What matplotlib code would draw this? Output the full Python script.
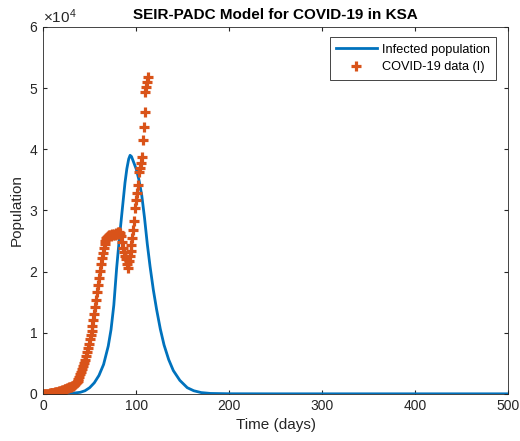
import matplotlib
matplotlib.use('Agg')
import matplotlib.pyplot as plt
import numpy as np
from matplotlib.ticker import ScalarFormatter

plt.rcParams['font.family'] = ['Liberation Sans', 'DejaVu Sans']
plt.rcParams['mathtext.fontset'] = 'custom'
plt.rcParams['mathtext.rm'] = 'Liberation Sans'

# model curve (infected population)
model_days = [0, 20, 30, 40, 45, 50, 55, 60, 65, 70, 73, 76, 79, 82, 85, 88, 90,
              92, 93.5, 95, 97, 100, 103, 106, 109, 112, 115, 118.5, 122, 126,
              130, 135, 140, 147, 155, 162, 170, 180, 200, 250, 300, 400, 500]
model_infected = [0, 10, 60, 250, 500, 1000, 1800, 3000, 4800, 7800, 10500,
                  14500, 20500, 25500, 30000, 34500, 36800, 38400, 39000, 38800,
                  38000, 36800, 35000, 32500, 28800, 24500, 20800, 17000, 13800,
                  10600, 8000, 5600, 3800, 2200, 1000, 500, 200, 60, 10, 0, 0,
                  0, 0]

# COVID-19 data (I), one point per day from day 0
data_infected = [0, 1, 1, 5, 10, 20, 40, 60, 90, 120, 150, 180, 200, 240, 280,
                 320, 360, 400, 450, 500, 560, 620, 680, 740, 800, 860, 920, 980,
                 1040, 1100, 1160, 1220, 1300, 1400, 1550, 1700, 1900, 2100, 2400,
                 2800, 3200, 3600, 4100, 4600, 5100, 5600, 6200, 6800, 7500, 8200,
                 8900, 9600, 10300, 11100, 12000, 13000, 14200, 15400, 16600,
                 17800, 19000, 20100, 21200, 22200, 23100, 23900, 24500, 25000,
                 25400, 25600, 25800, 25900, 26000, 25800, 26100, 25900, 26200,
                 26000, 26300, 26100, 26400, 26200, 26500, 26300, 25800, 24800,
                 23800, 23200, 22500, 22000, 21200, 20500, 21800, 22600, 23400,
                 24300, 25500, 26800, 28200, 30400, 31700, 32800, 34100, 36300,
                 36900, 37700, 38800, 41500, 43700, 46100, 49300, 50200, 51000,
                 51800]
data_days = np.arange(len(data_infected))

fig = plt.figure(figsize=(5.2, 4.41), dpi=100)
ax = fig.add_axes([0.083, 0.107, 0.894, 0.832])

ax.plot(model_days, model_infected, color='#0072BD', lw=2, label='Infected population')
ax.plot(data_days, data_infected, '+', color='#D95319', ms=7, mew=2.3,
        label='COVID-19 data (I)')

ax.set_xlim(0, 500)
ax.set_ylim(0, 60000)
ax.set_xticks(np.arange(0, 501, 100))
ax.set_yticks(np.arange(0, 60001, 10000))
fmt = ScalarFormatter(useMathText=True)
fmt.set_powerlimits((0, 0))
ax.yaxis.set_major_formatter(fmt)
ax.yaxis.get_offset_text().set_fontsize(11)
ax.yaxis.get_offset_text().set_color('#262626')

ax.tick_params(direction='in', length=3, colors='#262626', labelsize=10,
               top=True, right=True)
for s in ax.spines.values():
    s.set_color('#262626')
    s.set_linewidth(0.6)

ax.set_xlabel('Time (days)', fontsize=11, color='#262626')
ax.set_ylabel('Population', fontsize=11, color='#262626')
ax.set_title('SEIR-PADC Model for COVID-19 in KSA', fontsize=11, fontweight='bold')

leg = ax.legend(loc='upper right', bbox_to_anchor=(0.975, 0.972), borderaxespad=0,
                fontsize=9.2, fancybox=False, edgecolor='#262626', framealpha=1,
                handlelength=3.2, handletextpad=0.4, borderpad=0.5,
                labelspacing=0.45)
leg.get_frame().set_linewidth(0.6)

fig.savefig('out.png', dpi=100)
